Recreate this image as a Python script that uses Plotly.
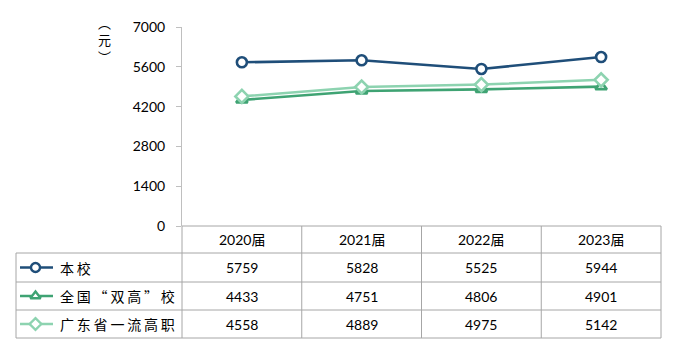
import plotly.graph_objects as go

W, H = 677, 351

categories = ["2020届", "2021届", "2022届", "2023届"]
series_names = ["本校", "全国“双高”校", "广东省一流高职"]
benxiao = [5759, 5828, 5525, 5944]
shuanggao = [4433, 4751, 4806, 4901]
guangdong = [4558, 4889, 4975, 5142]
y_ticks = [0, 1400, 2800, 4200, 5600, 7000]

series_values = [benxiao, shuanggao, guangdong]
colors = ["#1F4E79", "#3FA373", "#8DD3B0"]
symbols = ["circle", "triangle-up", "diamond"]

# layout in pixels
X0, X1 = 182, 661          # plot area / table data columns
Y_TOP, Y_AXIS = 27, 226    # plot top, y=0 line
ROW_LINES = [226, 253, 282, 310, 338]
LEFT = 16

def px(x):
    return x / W

def py(y):
    return 1 - y / H

fig = go.Figure()

xs = list(range(len(categories)))
for name, vals, c, s in zip(series_names, series_values, colors, symbols):
    fig.add_trace(go.Scatter(
        x=xs, y=vals, mode="lines+markers", name=name,
        line=dict(color=c, width=2.6),
        marker=dict(symbol=s, size=10, color="white",
                    line=dict(color=c, width=2.6)),
        xaxis="x", yaxis="y", showlegend=False, hoverinfo="skip", cliponaxis=False))

# legend keys inside the table (full-page pixel axes)
for i, (name, c, s) in enumerate(zip(series_names, colors, symbols)):
    yc = (ROW_LINES[i + 1] + ROW_LINES[i + 2]) / 2
    fig.add_trace(go.Scatter(
        x=[20, 53], y=[yc, yc], mode="lines",
        line=dict(color=c, width=2.6),
        xaxis="x2", yaxis="y2", showlegend=False, hoverinfo="skip"))
    fig.add_trace(go.Scatter(
        x=[35.5], y=[yc], mode="markers",
        marker=dict(symbol=s, size=9, color="white",
                    line=dict(color=c, width=2.4)),
        xaxis="x2", yaxis="y2", showlegend=False, hoverinfo="skip"))

font_lat = "Lato, 'Noto Sans CJK SC', sans-serif"
font_cjk = "'Noto Sans CJK SC', Lato, sans-serif"

fig.update_layout(
    template="none",
    width=W, height=H,
    margin=dict(l=0, r=0, t=0, b=0, pad=0),
    paper_bgcolor="white", plot_bgcolor="rgba(0,0,0,0)",
    showlegend=False,
    xaxis=dict(domain=[px(X0), px(X1)], range=[-0.5, len(categories) - 0.5],
               visible=False, fixedrange=True, anchor="y", automargin=False),
    yaxis=dict(domain=[py(Y_AXIS), py(Y_TOP)], range=[0, 7000], anchor="x",
               automargin=False,
               tickvals=y_ticks, ticktext=[str(v) for v in y_ticks],
               showgrid=False, zeroline=False,
               showline=True, linecolor="#BFBFBF", linewidth=1,
               ticks="outside", ticklen=5, tickcolor="#BFBFBF",
               ticklabelstandoff=8,
               tickfont=dict(family=font_lat, size=14, color="#000000")),
    xaxis2=dict(domain=[0, 1], range=[0, W], visible=False, anchor="y2", automargin=False),
    yaxis2=dict(domain=[0, 1], range=[H, 0], visible=False, anchor="x2", automargin=False),
)

# table lines
grid = dict(color="#A6A6A6", width=1)
fig.add_shape(type="line", xref="paper", yref="paper",
              x0=px(X0), x1=px(X1), y0=py(ROW_LINES[0]), y1=py(ROW_LINES[0]), line=grid)
for yl in ROW_LINES[1:]:
    fig.add_shape(type="line", xref="paper", yref="paper",
                  x0=px(LEFT), x1=px(X1), y0=py(yl), y1=py(yl), line=grid)
fig.add_shape(type="line", xref="paper", yref="paper",
              x0=px(LEFT), x1=px(LEFT), y0=py(ROW_LINES[1]), y1=py(ROW_LINES[-1]), line=grid)
col_w = (X1 - X0) / len(categories)
for k in range(len(categories) + 1):
    xv = X0 + k * col_w
    fig.add_shape(type="line", xref="paper", yref="paper",
                  x0=px(xv), x1=px(xv), y0=py(ROW_LINES[0]), y1=py(ROW_LINES[-1]), line=grid)

# header
for k, cat in enumerate(categories):
    fig.add_annotation(x=px(X0 + (k + 0.5) * col_w), y=py((ROW_LINES[0] + ROW_LINES[1]) / 2),
                       xref="paper", yref="paper", text=cat, showarrow=False,
                       xanchor="center", yanchor="middle",
                       font=dict(family=font_lat, size=14, color="#000000"))
# rows
for i, (name, vals) in enumerate(zip(series_names, series_values)):
    yc = (ROW_LINES[i + 1] + ROW_LINES[i + 2]) / 2
    fig.add_annotation(x=px(58), y=py(yc), xref="paper", yref="paper",
                       text="\u2009".join(name),
                       showarrow=False, xanchor="left", yanchor="middle",
                       font=dict(family=font_cjk, size=14, color="#000000"))
    for k, v in enumerate(vals):
        fig.add_annotation(x=px(X0 + (k + 0.5) * col_w), y=py(yc), xref="paper", yref="paper",
                           text=str(v), showarrow=False, xanchor="center", yanchor="middle",
                           font=dict(family=font_lat, size=14, color="#000000"))

# y-axis title (vertical)
fig.add_annotation(x=px(104), y=py(39), xref="paper", yref="paper",
                   text="︵<br>元<br>︶", showarrow=False,
                   xanchor="center", yanchor="middle",
                   font=dict(family=font_cjk, size=13, color="#000000"))

fig.write_html("out.html")
